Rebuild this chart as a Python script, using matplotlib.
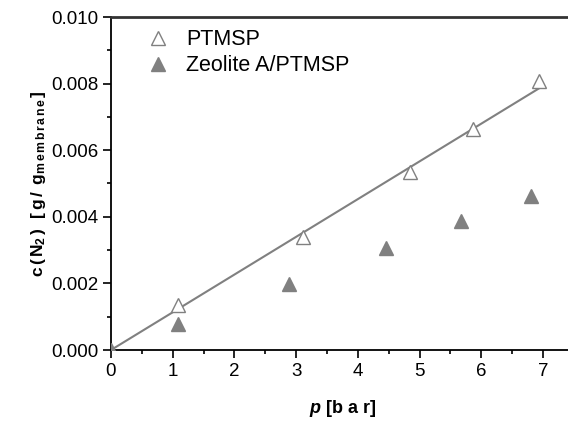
import matplotlib
matplotlib.use("Agg")
import matplotlib.pyplot as plt
from matplotlib.ticker import MultipleLocator, FormatStrFormatter

plt.rcParams['font.family'] = ['Liberation Sans', 'DejaVu Sans']
plt.rcParams['mathtext.fontset'] = 'custom'
plt.rcParams['mathtext.rm'] = 'Liberation Sans'
plt.rcParams['mathtext.bf'] = 'Liberation Sans:bold'
plt.rcParams['mathtext.it'] = 'Liberation Sans:italic'
plt.rcParams['mathtext.bfit'] = 'Liberation Sans:bold:italic'

p_ptmsp = [1.09, 3.11, 4.85, 5.86, 6.94]
c_ptmsp = [0.00135, 0.00340, 0.00535, 0.00664, 0.00808]
p_zeo = [0.0, 1.08, 2.89, 4.46, 5.67, 6.80]
c_zeo = [0.0, 0.00077, 0.00198, 0.00305, 0.00388, 0.00463]
fit_p = [0.0, 6.94]
fit_c = [0.0, 0.00786]

fig = plt.figure(figsize=(5.68, 4.23), dpi=100)
ax = fig.add_axes([111/568, 73/423, 7.5*61.7/568, 333/423])

ax.plot(fit_p, fit_c, color='#808080', lw=1.5, zorder=2)
ax.plot(p_ptmsp, c_ptmsp, linestyle='none', marker='^', ms=10, mfc='white',
        mec='#808080', mew=1.0, label='PTMSP', zorder=3)
ax.plot(p_zeo, c_zeo, linestyle='none', marker='^', ms=10, mfc='#808080',
        mec='#808080', mew=1.0, label='Zeolite A/PTMSP', zorder=3)

ax.set_xlim(0, 7.5)
ax.set_ylim(0, 0.010)
ax.xaxis.set_major_locator(MultipleLocator(1))
ax.xaxis.set_minor_locator(MultipleLocator(0.5))
ax.yaxis.set_major_locator(MultipleLocator(0.002))
ax.yaxis.set_minor_locator(MultipleLocator(0.001))
ax.yaxis.set_major_formatter(FormatStrFormatter('%.3f'))
ax.tick_params(which='major', direction='out', length=6, width=1.2, labelsize=13.5, pad=3)
ax.tick_params(which='minor', direction='out', length=3, width=1.2)
ax.spines['right'].set_visible(False)
for s in ['left', 'bottom']:
    ax.spines[s].set_linewidth(1.3)
ax.spines['top'].set_linewidth(2.0)
ax.spines['top'].set_color('#333333')

ax.set_xlabel(r'$\mathbfit{p}$ [b a r]', fontsize=13, fontweight='bold', labelpad=13)
ax.set_ylabel(r'$\mathbf{c\,(\,N_{2}\,)\;\;\,[\,g\,/\;\;g_{m\,e\,m\,b\,r\,a\,n\,e}\,]}$',
              fontsize=12.5, labelpad=2)

ax.legend(loc='upper left', bbox_to_anchor=(0.025, 1.022), frameon=False, fontsize=15.5,
          handletextpad=0.55, labelspacing=0.25, handlelength=1.5)

fig.savefig('out.png', dpi=100)
